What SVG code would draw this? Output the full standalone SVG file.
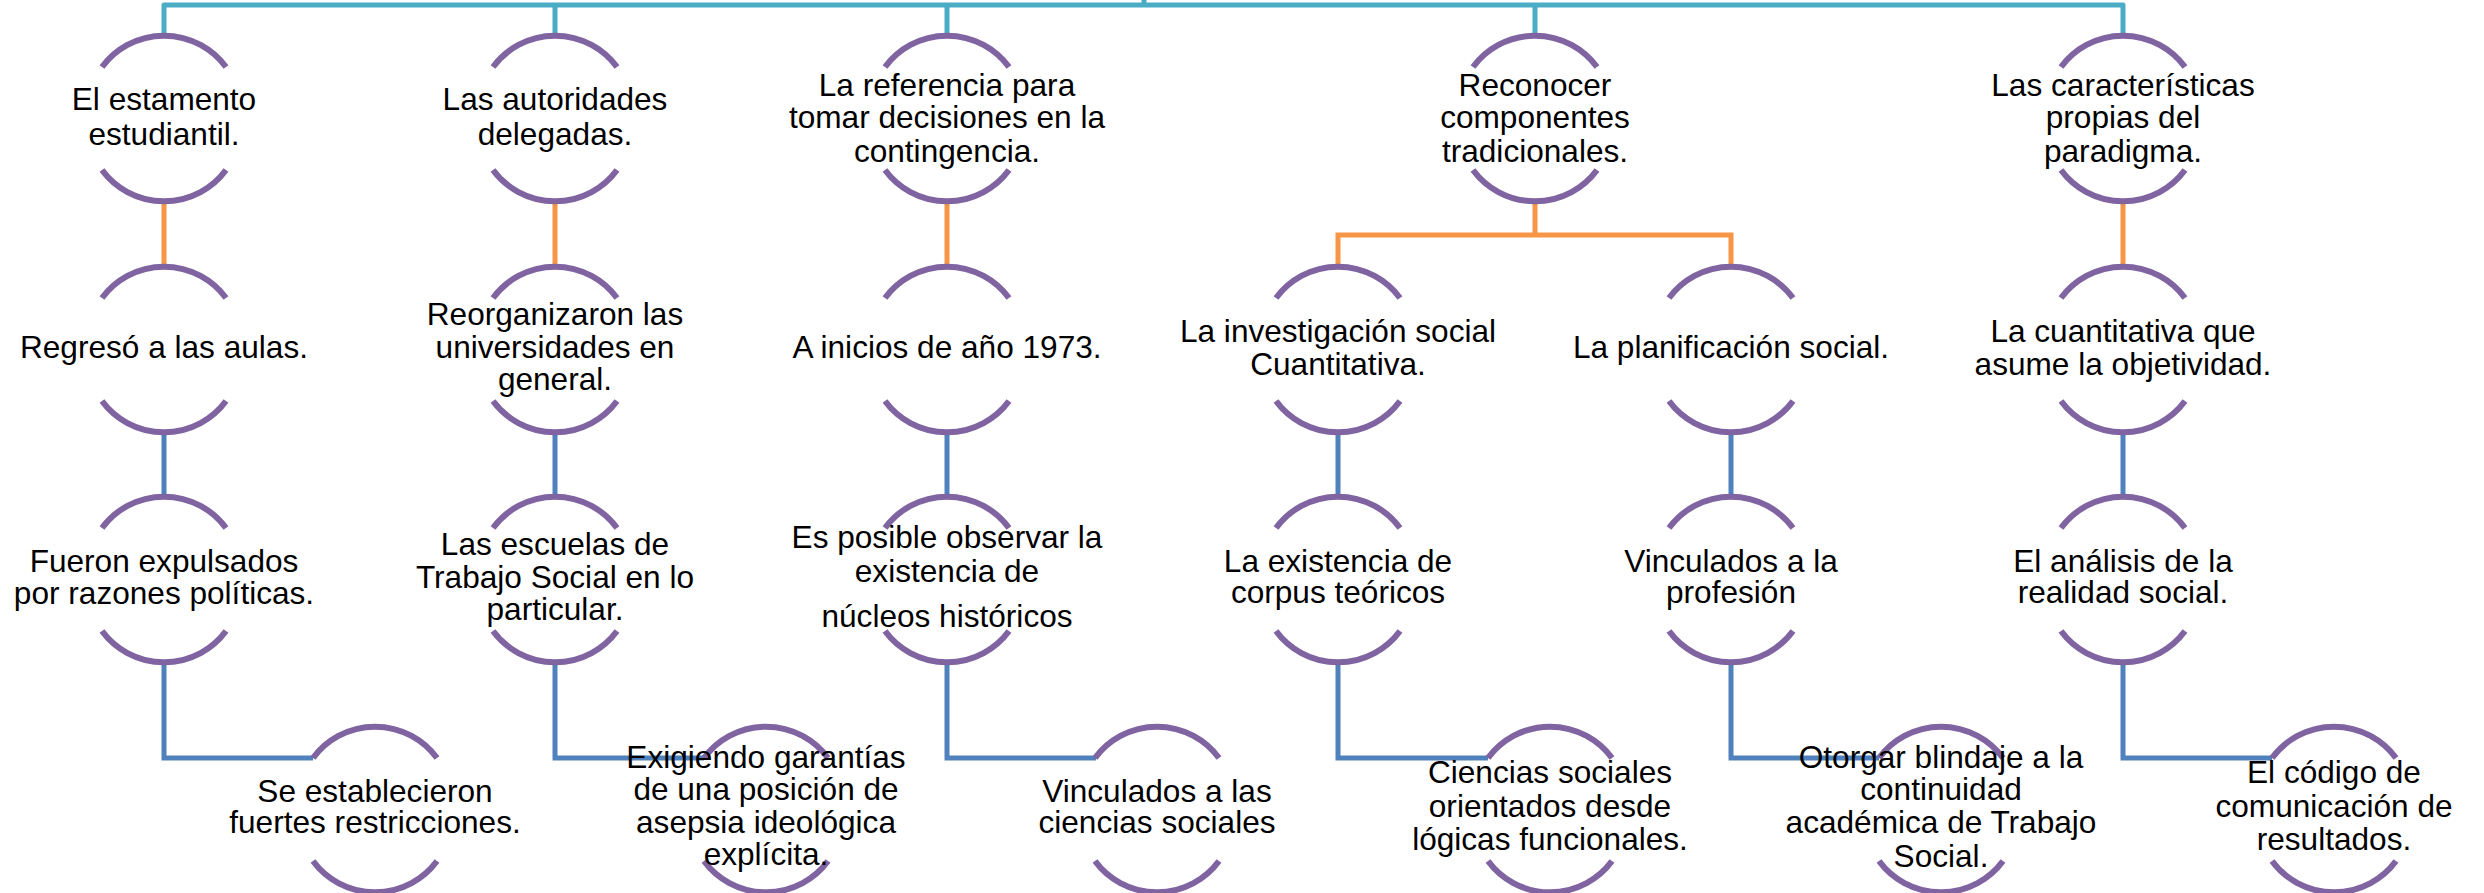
<svg xmlns="http://www.w3.org/2000/svg" xmlns:xlink="http://www.w3.org/1999/xlink" width="2484" height="893" viewBox="0 0 2484 893">
<style>
.arc{fill:none;stroke:#8064A2;stroke-width:6;stroke-linecap:butt}
.t{font-family:"Liberation Sans",Arial,sans-serif;font-size:31.6px;fill:#000;text-anchor:middle}
.teal{fill:none;stroke:#4BACC6;stroke-width:5;stroke-linejoin:round}
.orange{fill:none;stroke:#F79646;stroke-width:5;stroke-linejoin:miter}
.blue{fill:none;stroke:#4F81BD;stroke-width:5;stroke-linejoin:miter}
</style>
<defs>
<g id="arcs">
<path class="arc" d="M -62 31 A 77 77 0 0 1 62 31"/>
<path class="arc" d="M -62 134 A 77 77 0 0 0 62 134"/>
</g>
</defs>
<rect width="2484" height="893" fill="#fff"/>
<g id="connectors">
<path class="teal" d="M 164 36 V 5 H 2123 V 36"/>
<path class="teal" d="M 555 5 V 36 M 947 5 V 36 M 1535 5 V 36 M 1144 0 V 5"/>
<path class="orange" d="M 164 201 V 267 M 555 201 V 267 M 947 201 V 267 M 2123 201 V 267"/>
<path class="orange" d="M 1535 201 V 235 M 1338 267 V 235 H 1731 V 267"/>
<path class="blue" d="M 164 432 V 497 M 555 432 V 497 M 947 432 V 497 M 1338 432 V 497 M 1731 432 V 497 M 2123 432 V 497"/>
<path class="blue" d="M 164 662 V 758 H 313 M 555 662 V 758 H 704 M 947 662 V 758 H 1096 M 1338 662 V 758 H 1488 M 1731 662 V 758 H 1879 M 2123 662 V 758 H 2272"/>
</g>
<g id="n1"><use xlink:href="#arcs" x="164" y="36"/><text class="t"><tspan x="164" y="110">El estamento</tspan><tspan x="164" y="145">estudiantil.</tspan></text></g>
<g id="n2"><use xlink:href="#arcs" x="164" y="267"/><text class="t"><tspan x="164" y="358">Regresó a las aulas.</tspan></text></g>
<g id="n3"><use xlink:href="#arcs" x="164" y="497"/><text class="t"><tspan x="164" y="572">Fueron expulsados</tspan><tspan x="164" y="604">por razones políticas.</tspan></text></g>
<g id="n4"><use xlink:href="#arcs" x="375" y="727"/><text class="t"><tspan x="375" y="802">Se establecieron</tspan><tspan x="375" y="833">fuertes restricciones.</tspan></text></g>
<g id="n5"><use xlink:href="#arcs" x="555" y="36"/><text class="t"><tspan x="555" y="110">Las autoridades</tspan><tspan x="555" y="145">delegadas.</tspan></text></g>
<g id="n6"><use xlink:href="#arcs" x="555" y="267"/><text class="t"><tspan x="555" y="325">Reorganizaron las</tspan><tspan x="555" y="358">universidades en</tspan><tspan x="555" y="390">general.</tspan></text></g>
<g id="n7"><use xlink:href="#arcs" x="555" y="497"/><text class="t"><tspan x="555" y="555">Las escuelas de</tspan><tspan x="555" y="588">Trabajo Social en lo</tspan><tspan x="555" y="620">particular.</tspan></text></g>
<g id="n8"><use xlink:href="#arcs" x="766" y="727"/><text class="t"><tspan x="766" y="768">Exigiendo garantías</tspan><tspan x="766" y="800">de una posición de</tspan><tspan x="766" y="833">asepsia ideológica</tspan><tspan x="766" y="865">explícita.</tspan></text></g>
<g id="n9"><use xlink:href="#arcs" x="947" y="36"/><text class="t"><tspan x="947" y="96">La referencia para</tspan><tspan x="947" y="128">tomar decisiones en la</tspan><tspan x="947" y="162">contingencia.</tspan></text></g>
<g id="n10"><use xlink:href="#arcs" x="947" y="267"/><text class="t"><tspan x="947" y="358">A inicios de año 1973.</tspan></text></g>
<g id="n11"><use xlink:href="#arcs" x="947" y="497"/><text class="t"><tspan x="947" y="548">Es posible observar la</tspan><tspan x="947" y="582">existencia de</tspan><tspan x="947" y="627">núcleos históricos</tspan></text></g>
<g id="n12"><use xlink:href="#arcs" x="1157" y="727"/><text class="t"><tspan x="1157" y="802">Vinculados a las</tspan><tspan x="1157" y="833">ciencias sociales</tspan></text></g>
<g id="n13"><use xlink:href="#arcs" x="1535" y="36"/><text class="t"><tspan x="1535" y="96">Reconocer</tspan><tspan x="1535" y="128">componentes</tspan><tspan x="1535" y="162">tradicionales.</tspan></text></g>
<g id="n14"><use xlink:href="#arcs" x="1338" y="267"/><text class="t"><tspan x="1338" y="342">La investigación social</tspan><tspan x="1338" y="375">Cuantitativa.</tspan></text></g>
<g id="n15"><use xlink:href="#arcs" x="1338" y="497"/><text class="t"><tspan x="1338" y="572">La existencia de</tspan><tspan x="1338" y="603">corpus teóricos</tspan></text></g>
<g id="n16"><use xlink:href="#arcs" x="1550" y="727"/><text class="t"><tspan x="1550" y="783">Ciencias sociales</tspan><tspan x="1550" y="817">orientados desde</tspan><tspan x="1550" y="850">lógicas funcionales.</tspan></text></g>
<g id="n17"><use xlink:href="#arcs" x="1731" y="267"/><text class="t"><tspan x="1731" y="358">La planificación social.</tspan></text></g>
<g id="n18"><use xlink:href="#arcs" x="1731" y="497"/><text class="t"><tspan x="1731" y="572">Vinculados a la</tspan><tspan x="1731" y="603">profesión</tspan></text></g>
<g id="n19"><use xlink:href="#arcs" x="1941" y="727"/><text class="t"><tspan x="1941" y="768">Otorgar blindaje a la</tspan><tspan x="1941" y="800">continuidad</tspan><tspan x="1941" y="833">académica de Trabajo</tspan><tspan x="1941" y="867">Social.</tspan></text></g>
<g id="n20"><use xlink:href="#arcs" x="2123" y="36"/><text class="t"><tspan x="2123" y="96">Las características</tspan><tspan x="2123" y="128">propias del</tspan><tspan x="2123" y="162">paradigma.</tspan></text></g>
<g id="n21"><use xlink:href="#arcs" x="2123" y="267"/><text class="t"><tspan x="2123" y="342">La cuantitativa que</tspan><tspan x="2123" y="375">asume la objetividad.</tspan></text></g>
<g id="n22"><use xlink:href="#arcs" x="2123" y="497"/><text class="t"><tspan x="2123" y="572">El análisis de la</tspan><tspan x="2123" y="603">realidad social.</tspan></text></g>
<g id="n23"><use xlink:href="#arcs" x="2334" y="727"/><text class="t"><tspan x="2334" y="783">El código de</tspan><tspan x="2334" y="817">comunicación de</tspan><tspan x="2334" y="850">resultados.</tspan></text></g>
</svg>
